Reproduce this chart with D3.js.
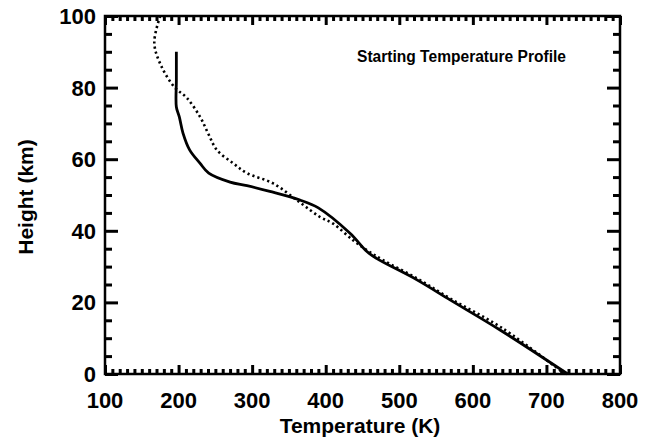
<!DOCTYPE html>
<html><head><meta charset="utf-8">
<script src="https://cdn.jsdelivr.net/npm/d3@7"></script>
<style>body{margin:0;background:#fff}svg{display:block}text{font-family:"Liberation Sans",Arial,sans-serif;font-weight:bold;fill:#000}</style>
</head><body><svg id="c" width="645" height="439"></svg>
<script>
const xTicks = [100,200,300,400,500,600,700,800];
const yTicks = [0,20,40,60,80,100];
// Solid profile: [temperature K, height km]
const solidT = [197,197,197,201,206,215,229,241,270,293,324,365,390,433,456,469,524,569,637,729];
const solidH = [90,82,74.6,71.8,67.3,62.6,58.9,56.1,53.6,52.6,51,48.6,46.4,39.3,34.2,32.3,26.3,20.7,12.3,0];
// Dotted profile
const dotT = [175,167,177,195,211,229,240,252,274,293,328,365,392,410,437,456,478,525,570,640,725];
const dotH = [100,92.4,85.8,80,77.2,71.9,67.3,62.6,58.9,56.1,53.3,47.9,43.9,42,37.4,34.6,31.8,26.6,21,12.8,0];
const titleText = "Starting Temperature Profile";
const xLabel = "Temperature (K)";
const yLabel = "Height (km)";

const svg = d3.select("#c");
const L=105,R=620,T=16,B=374;
const x = d3.scaleLinear().domain([100,800]).range([L,R]);
const y = d3.scaleLinear().domain([0,100]).range([B,T]);

const minorX = d3.range(110,800,10).filter(v=>v%100!==0);
const minorY = d3.range(5,100,5).filter(v=>v%20!==0);

svg.append("rect").attr("x",L).attr("y",T).attr("width",R-L).attr("height",B-T)
  .attr("fill","none").attr("stroke","#000").attr("stroke-width",2.5);

// inward ticks on all four sides
const axG = svg.append("g");
function ax(axis, tx, ty){
  const a = axG.append("g").attr("transform",`translate(${tx},${ty})`).call(axis);
  a.select(".domain").remove();
  a.selectAll("text").remove();
  a.selectAll("line").attr("stroke","#000").attr("stroke-width",3);
}
ax(d3.axisBottom(x).tickValues(xTicks).tickSizeInner(-9).tickSizeOuter(0), 0, B);
ax(d3.axisBottom(x).tickValues(minorX).tickSizeInner(-5).tickSizeOuter(0), 0, B);
ax(d3.axisTop(x).tickValues(xTicks).tickSizeInner(-9).tickSizeOuter(0), 0, T);
ax(d3.axisTop(x).tickValues(minorX).tickSizeInner(-5).tickSizeOuter(0), 0, T);
ax(d3.axisLeft(y).tickValues(yTicks).tickSizeInner(-13).tickSizeOuter(0), L, 0);
ax(d3.axisLeft(y).tickValues(minorY).tickSizeInner(-7).tickSizeOuter(0), L, 0);
ax(d3.axisRight(y).tickValues(yTicks).tickSizeInner(-13).tickSizeOuter(0), R, 0);
ax(d3.axisRight(y).tickValues(minorY).tickSizeInner(-7).tickSizeOuter(0), R, 0);

// tick labels
svg.selectAll(".xl").data(xTicks).join("text").attr("class","xl")
  .attr("x",d=>x(d)).attr("y",408).attr("text-anchor","middle").attr("font-size",22).text(d=>d);
svg.selectAll(".yl").data(yTicks).join("text").attr("class","yl")
  .attr("x",L-9).attr("y",d=>y(d)+8).attr("text-anchor","end").attr("font-size",22).text(d=>d);

svg.append("text").attr("x",360).attr("y",433).attr("text-anchor","middle").attr("font-size",21).text(xLabel);
svg.append("text").attr("transform","translate(33,197) rotate(-90)").attr("text-anchor","middle").attr("font-size",21).text(yLabel);
svg.append("text").attr("x",357).attr("y",62).attr("font-size",16).attr("textLength",209).attr("lengthAdjust","spacingAndGlyphs").text(titleText);

const line = d3.line().x(d=>x(d[0])).y(d=>y(d[1])).curve(d3.curveCatmullRom.alpha(0.5));
svg.append("path").datum(dotT.map((t,i)=>[t,dotH[i]])).attr("d",line)
  .attr("fill","none").attr("stroke","#000").attr("stroke-width",2.6).attr("stroke-dasharray","2.2,3");
svg.append("path").datum(solidT.map((t,i)=>[t,solidH[i]])).attr("d",line)
  .attr("fill","none").attr("stroke","#000").attr("stroke-width",2.8).attr("stroke-linejoin","round");
</script></body></html>
